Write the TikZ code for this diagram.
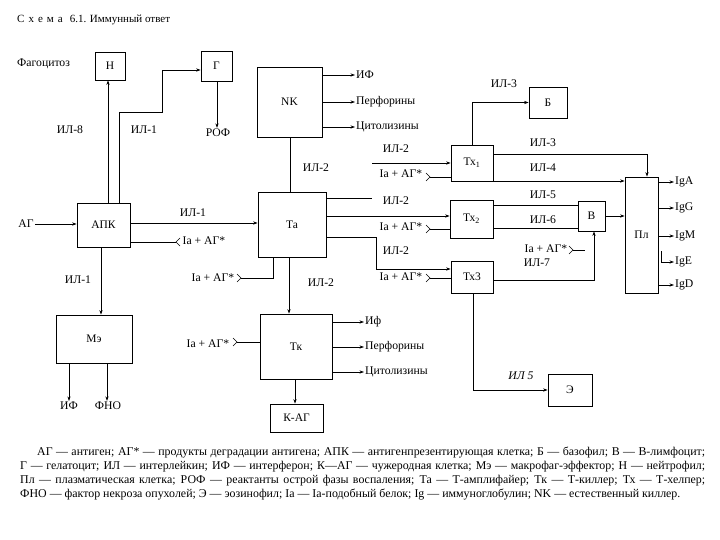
\documentclass[tikz,border=0pt]{standalone}
\usepackage{fontspec}
\setmainfont{Liberation Serif}
\usetikzlibrary{arrows.meta}
\newcommand\mychev[2]{\draw[ln] (#1) ++(#2,-4) -- (#1) -- ++(#2,4);}
\begin{document}
\begin{tikzpicture}[x=1pt,y=-1pt,
  box/.style={draw, line width=0.8pt, inner sep=0pt, font=\fontsize{11.5}{12}\selectfont},
  lab/.style={inner sep=1pt, font=\fontsize{11.7}{13}\selectfont},
  leg/.style={inner sep=0pt, anchor=west, font=\fontsize{11.9}{13}\selectfont},
  ln/.style={line width=0.6pt},
  arr/.style={ln, -{Stealth[length=4.5pt,width=3.2pt]}},
]
\useasboundingbox[fill=white] (0,0) rectangle (720,540);

% title
\node[lab, anchor=west, font=\fontsize{11}{12}\selectfont] (title) at (16,20) {С\hspace{4pt}х\hspace{4pt}е\hspace{4pt}м\hspace{4pt}а\hspace{7pt}6.1. Иммунный ответ};
\node[lab, anchor=west] (fag) at (16,64) {Фагоцитоз};

% boxes
\node[box, minimum width=30pt, minimum height=28pt] (H) at (110,66) {Н};
\node[box, minimum width=31pt, minimum height=30pt] (G) at (216.5,66) {Г};
\node[box, minimum width=65pt, minimum height=70pt] (NK) at (289.5,102) {NK};
\node[box, minimum width=38pt, minimum height=31pt] (Bas) at (548,102.5) {Б};
\node[box, minimum width=53pt, minimum height=44pt] (APK) at (103.5,225) {АПК};
\node[box, minimum width=68pt, minimum height=65pt] (Ta) at (292,224.5) {Та};
\node[box, minimum width=42pt, minimum height=36pt] (Tx1) at (472,163) {Тх\textsubscript{1}};
\node[box, minimum width=43pt, minimum height=38pt] (Tx2) at (471.5,219) {Тх\textsubscript{2}};
\node[box, minimum width=42pt, minimum height=32pt] (Tx3) at (472,277) {Тх3};
\node[box, minimum width=27pt, minimum height=30pt] (Bv) at (591.5,216) {В};
\node[box, minimum width=33pt, minimum height=116pt] (Pl) at (641.5,235) {Пл};
\node[box, minimum width=76pt, minimum height=48pt] (Me) at (94,339) {Мэ};
\node[box, minimum width=72pt, minimum height=65pt] (Tk) at (296,346.5) {Тк};
\node[box, minimum width=53pt, minimum height=28pt] (KAG) at (296.5,418) {К-АГ};
\node[box, minimum width=44pt, minimum height=32pt] (E) at (570,390) {Э};

% labels
\node[lab] (il8) at (70,130) {ИЛ-8};
\node[lab] (il1a) at (144,130) {ИЛ-1};
\node[lab] (ROF) at (218,133) {РОФ};
\node[lab, anchor=west] (nk1) at (355,75) {ИФ};
\node[lab, anchor=west] (nk2) at (355,102) {Перфорины};
\node[lab, anchor=west] (nk3) at (355,127) {Цитолизины};
\node[lab] (il2nk) at (316,168) {ИЛ-2};
\node[lab] (il3b) at (504,84) {ИЛ-3};
\node[lab] (il2t1) at (396,149) {ИЛ-2};
\node[lab] (iat1) at (401,174) {Ia + АГ*};
\node[lab] (il3p) at (543,143) {ИЛ-3};
\node[lab] (il4p) at (543,168) {ИЛ-4};
\node[lab] (il2t2) at (396,201) {ИЛ-2};
\node[lab] (iat2) at (401,227) {Ia + АГ*};
\node[lab] (il5b) at (543,195) {ИЛ-5};
\node[lab] (il6b) at (543,220) {ИЛ-6};
\node[lab] (il2t3) at (396,251) {ИЛ-2};
\node[lab] (iat3) at (401,277) {Ia + АГ*};
\node[lab] (iab) at (546,249) {Ia + АГ*};
\node[lab] (il7) at (537,263) {ИЛ-7};
\node[lab, anchor=west] (igA) at (674,182) {IgA};
\node[lab, anchor=west] (igG) at (674,208) {IgG};
\node[lab, anchor=west] (igM) at (674,236) {IgM};
\node[lab, anchor=west] (igE) at (674,262) {IgE};
\node[lab, anchor=west] (igD) at (674,285) {IgD};
\node[lab] (il1t) at (193,213) {ИЛ-1};
\node[lab] (iaapk) at (204,241) {Ia + АГ*};
\node[lab] (AG) at (26,224) {АГ};
\node[lab] (iata) at (213,278) {Ia + АГ*};
\node[lab] (il2tk) at (321,283) {ИЛ-2};
\node[lab] (il1m) at (78,280) {ИЛ-1};
\node[lab] (IFm) at (69,406) {ИФ};
\node[lab] (FNO) at (108,406) {ФНО};
\node[lab] (iatk) at (208,344) {Ia + АГ*};
\node[lab, anchor=west] (tk1) at (364,322) {Иф};
\node[lab, anchor=west] (tk2) at (364,347) {Перфорины};
\node[lab, anchor=west] (tk3) at (364,372) {Цитолизины};
\node[lab] (il5e) at (521,376) {\textit{ИЛ 5}};

% chevron coordinates
\coordinate (cT1) at (430,177);
\coordinate (cT2) at (430,229);
\coordinate (cT3) at (430,278);
\coordinate (cB) at (573,250);
\coordinate (cA) at (176,242);
\coordinate (cTa) at (241,278);
\coordinate (cTk) at (237,342);
\coordinate (eB) at (585,250);
\coordinate (e2) at (372,198);
\coordinate (s1) at (372,163);

\mychev{cT1}{-4}
\mychev{cT2}{-4}
\mychev{cT3}{-4}
\mychev{cB}{-4}
\mychev{cA}{4}
\mychev{cTa}{-4}
\mychev{cTk}{-4}

% connectors
\draw[arr] (APK.north -| 108,0) -- (H.south -| 108,0);
\draw[arr] (APK.north -| 119,0) -- (119,112) -| (162,70) -- (G.west |- 0,70);
\draw[arr] (G.south -| 217,0) -- (ROF.north -| 217,0);
\draw[arr] (AG.east) -- (APK.west |- AG.east);
\draw[arr] (APK.east |- 0,223) -- (Ta.west |- 0,223);
\draw[ln] (APK.east |- 0,242) -- (cA);
\draw[arr] (APK.south -| 101,0) -- (Me.north -| 101,0);
\draw[arr] (Me.south -| 69,0) -- (IFm.north -| 69,0);
\draw[arr] (Me.south -| 107,0) -- (FNO.north -| 107,0);

\draw[ln] (Ta.north -| 290,0) -- (NK.south -| 290,0);
\draw[arr] (NK.east |- 0,75) -- (nk1.west);
\draw[arr] (NK.east |- 0,102) -- (nk2.west);
\draw[arr] (NK.east |- 0,127) -- (nk3.west);

\draw[ln] (cTa) -| (Ta.south -| 273,0);
\draw[arr] (Ta.south -| 289,0) -- (Tk.north -| 289,0);

\draw[ln] (Ta.east |- e2) -- (e2);
\draw[arr] (s1) -- (Tx1.west |- s1);
\draw[ln] (cT1) -- (Tx1.west |- cT1);
\draw[arr] (Tx1.north -| 472,0) |- (Bas.west);
\draw[arr] (Tx1.east |- 0,154) -| (Pl.north -| 647,0);
\draw[arr] (Tx1.east |- 0,181) -- (Pl.west |- 0,181);

\draw[arr] (Ta.east |- 0,216) -- (Tx2.west |- 0,216);
\draw[ln] (cT2) -- (Tx2.west |- cT2);
\draw[arr] (Ta.east |- 0,237) -| (376,269) -- (Tx3.west |- 0,269);
\draw[ln] (cT3) -- (Tx3.west |- cT3);

\draw[ln] (Tx2.east |- 0,205) -- (Bv.west |- 0,205);
\draw[ln] (Tx2.east |- 0,228) -- (Bv.west |- 0,228);
\draw[arr] (Bv.east) -- (Pl.west |- Bv.east);
\draw[arr] (Tx3.east |- 0,280) -| (Bv.south -| 594,0);
\draw[ln] (cB) -- (eB);
\draw[arr] (Tx3.south -| 473,0) |- (E.west);

\draw[arr] (Pl.east |- igA) -- (igA.west);
\draw[arr] (Pl.east |- igG) -- (igG.west);
\draw[arr] (Pl.east |- igM) -- (igM.west);
\draw[arr] (661,251) |- (igE.west);
\draw[arr] (Pl.east |- igD) -- (igD.west);

\draw[ln] (cTk) -- (Tk.west |- cTk);
\draw[arr] (Tk.east |- tk1) -- (tk1.west);
\draw[arr] (Tk.east |- tk2) -- (tk2.west);
\draw[arr] (Tk.east |- tk3) -- (tk3.west);
\draw[arr] (Tk.south -| 295,0) -- (KAG.north -| 295,0);

% legend
\node[leg] (L1) at (37,453) {\makebox[668pt][s]{АГ — антиген; АГ* — продукты деградации антигена; АПК — антигенпрезентирующая клетка; Б — базофил; В — В-лимфоцит;}};
\node[leg] (L2) at (20,467) {\makebox[685pt][s]{Г — гелатоцит; ИЛ — интерлейкин; ИФ — интерферон; К—АГ — чужеродная клетка; Мэ — макрофаг-эффектор; Н — нейтрофил;}};
\node[leg] (L3) at (20,481) {\makebox[685pt][s]{Пл — плазматическая клетка; РОФ — реактанты острой фазы воспаления; Та — Т-амплифайер; Тк — Т-киллер; Тх — Т-хелпер;}};
\node[leg] (L4) at (20,495) {ФНО — фактор некроза опухолей; Э — эозинофил; Ia — Ia-подобный белок; Ig — иммуноглобулин; NK — естественный киллер.};
\end{tikzpicture}
\end{document}
